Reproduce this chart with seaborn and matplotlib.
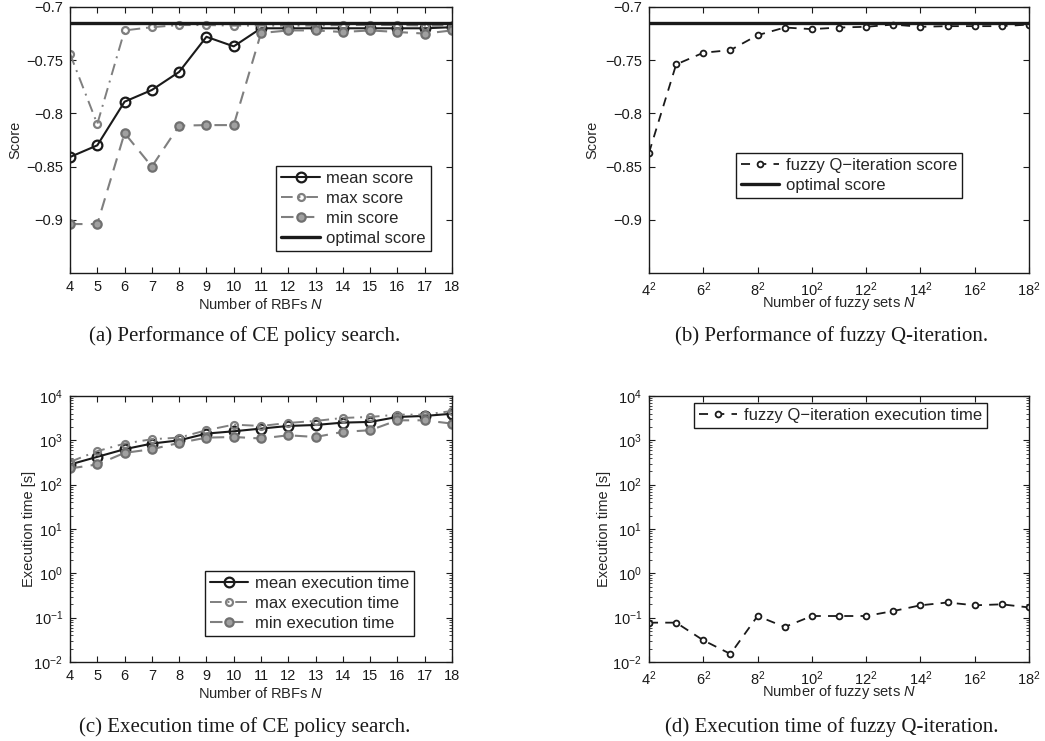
import numpy as np
import pandas as pd
import matplotlib
matplotlib.use("Agg")
import matplotlib.pyplot as plt
import seaborn as sns
from matplotlib.ticker import FixedLocator, FixedFormatter, LogLocator

# ---------------- data ----------------
n_rbfs = [4, 5, 6, 7, 8, 9, 10, 11, 12, 13, 14, 15, 16, 17, 18]
mean_score = [-0.841, -0.830, -0.789, -0.778, -0.761, -0.728, -0.737, -0.720,
              -0.720, -0.720, -0.720, -0.720, -0.720, -0.720, -0.719]
max_score = [-0.744, -0.810, -0.722, -0.719, -0.717, -0.717, -0.7175, -0.7175,
             -0.7175, -0.7175, -0.717, -0.717, -0.717, -0.7175, -0.718]
min_score = [-0.904, -0.904, -0.8185, -0.850, -0.8115, -0.811, -0.811, -0.7245,
             -0.722, -0.722, -0.7235, -0.722, -0.7235, -0.725, -0.722]
optimal_score = -0.715

n_fuzzy = [4, 5, 6, 7, 8, 9, 10, 11, 12, 13, 14, 15, 16, 17, 18]
fuzzy_score = [-0.837, -0.754, -0.743, -0.7405, -0.7265, -0.7193, -0.7208, -0.7193,
               -0.7186, -0.7165, -0.7186, -0.718, -0.718, -0.718, -0.7165]

mean_time = [285, 424, 631, 845, 1000, 1420, 1600, 1840, 2110, 2220, 2510, 2600,
             3370, 3550, 3980]
max_time = [327, 570, 845, 1060, 1150, 1690, 2260, 2110, 2470, 2740, 3200, 3370,
            3800, 3800, 4590]
min_time = [232, 286, 521, 631, 875, 1150, 1190, 1100, 1300, 1190, 1550, 1690,
            2830, 2830, 2380]

fuzzy_time = [0.0772, 0.0772, 0.0309, 0.0152, 0.109, 0.0617, 0.109, 0.109, 0.109,
              0.141, 0.19, 0.22, 0.19, 0.20, 0.17]

rbf_ticks = [4, 5, 6, 7, 8, 9, 10, 11, 12, 13, 14, 15, 16, 17, 18]
fuzzy_ticks = [4, 6, 8, 10, 12, 14, 16, 18]
fuzzy_tick_labels = [r"$\mathregular{4^2}$", r"$\mathregular{6^2}$", r"$\mathregular{8^2}$",
                     r"$\mathregular{10^2}$", r"$\mathregular{12^2}$", r"$\mathregular{14^2}$",
                     r"$\mathregular{16^2}$", r"$\mathregular{18^2}$"]
score_ticks = [-0.9, -0.85, -0.8, -0.75, -0.7]
score_tick_labels = ["\u22120.9", "\u22120.85", "\u22120.8", "\u22120.75", "\u22120.7"]

captions = ["(a) Performance of CE policy search.",
            "(b) Performance of fuzzy Q-iteration.",
            "(c) Execution time of CE policy search.",
            "(d) Execution time of fuzzy Q-iteration."]

# ---------------- style ----------------
sns.set_theme(style="white")
plt.rcParams['font.family'] = ['Liberation Sans', 'DejaVu Sans']
plt.rcParams['mathtext.fontset'] = 'custom'
plt.rcParams['mathtext.rm'] = 'Liberation Sans'
plt.rcParams['mathtext.it'] = 'Liberation Sans:italic'
plt.rcParams['axes.unicode_minus'] = True
FS = 10.5
LFS = 12

fig = plt.figure(figsize=(10.45, 7.41), dpi=100)
W, H = 1045, 741


def add_ax(l, r, t, b):
    return fig.add_axes([l / W, 1 - b / H, (r - l) / W, (b - t) / H])


axA = add_ax(70, 452, 7, 273)
axB = add_ax(649, 1029, 7, 273)
axC = add_ax(70, 452, 396, 662)
axD = add_ax(649, 1029, 396, 662)

GRAY = '#7f7f7f'
leg_kw = dict(frameon=True, fancybox=False, framealpha=1, edgecolor='k',
              handlelength=2.3, handletextpad=0.4, labelspacing=0.3,
              borderpad=0.3, borderaxespad=0, fontsize=LFS)

# ---- (a) ----
sns.lineplot(x=n_rbfs, y=mean_score, ax=axA, color='k', lw=1.5, marker='o', ms=7,
             mfc='none', mec='k', mew=1.6, label='mean score')
sns.lineplot(x=n_rbfs, y=max_score, ax=axA, color=GRAY, lw=1.4, ls=(0, (6, 3, 1, 3)),
             marker='o', ms=5, mfc='none', mec=GRAY, mew=1.6, label='max score')
sns.lineplot(x=n_rbfs, y=min_score, ax=axA, color=GRAY, lw=1.5, ls=(0, (6, 4)),
             marker='o', ms=6, mfc='#a0a0a0', mec='#707070', mew=1.6, label='min score')
axA.axhline(optimal_score, color='k', lw=2.4, label='optimal score')
axA.set_ylim(-0.95, -0.7)
axA.set_xlim(4, 18)
axA.set_xticks(rbf_ticks)
axA.yaxis.set_major_locator(FixedLocator(score_ticks))
axA.yaxis.set_major_formatter(FixedFormatter(score_tick_labels))
axA.set_xlabel(r"Number of RBFs $\mathit{N}$", fontsize=FS, labelpad=2)
axA.set_ylabel("Score", fontsize=FS, labelpad=3)
axA.legend(loc='lower right', bbox_to_anchor=(0.945, 0.083), **leg_kw)

# ---- (b) ----
sns.lineplot(x=n_fuzzy, y=fuzzy_score, ax=axB, color='k', lw=1.3, ls=(0, (5, 4)),
             marker='o', ms=4.2, mfc='white', mec='k', mew=1.3,
             label='fuzzy Q\u2212iteration score')
axB.axhline(optimal_score, color='k', lw=2.4, label='optimal score')
axB.set_ylim(-0.95, -0.7)
axB.set_xlim(4, 18)
axB.xaxis.set_major_locator(FixedLocator(fuzzy_ticks))
axB.xaxis.set_major_formatter(FixedFormatter(fuzzy_tick_labels))
axB.yaxis.set_major_locator(FixedLocator(score_ticks))
axB.yaxis.set_major_formatter(FixedFormatter(score_tick_labels))
axB.set_xlabel(r"Number of fuzzy sets $\mathit{N}$", fontsize=FS, labelpad=-3)
axB.set_ylabel("Score", fontsize=FS, labelpad=4)
axB.legend(loc='upper left', bbox_to_anchor=(0.229, 0.451), **leg_kw)

# ---- (c) ----
sns.lineplot(x=n_rbfs, y=mean_time, ax=axC, color='k', lw=1.5, marker='o', ms=7,
             mfc='none', mec='k', mew=1.6, label='mean execution time')
sns.lineplot(x=n_rbfs, y=max_time, ax=axC, color=GRAY, lw=1.4, ls=(0, (6, 3, 1, 3)),
             marker='o', ms=5, mfc='none', mec=GRAY, mew=1.6, label='max execution time')
sns.lineplot(x=n_rbfs, y=min_time, ax=axC, color=GRAY, lw=1.5, ls=(0, (6, 4)),
             marker='o', ms=6, mfc='#a0a0a0', mec='#707070', mew=1.6, label='min execution time')
axC.set_yscale('log')
axC.set_ylim(1e-2, 1e4)
axC.set_xlim(4, 18)
axC.set_xticks(rbf_ticks)
axC.set_xlabel(r"Number of RBFs $\mathit{N}$", fontsize=FS, labelpad=2)
axC.set_ylabel("Execution time [s]", fontsize=FS, labelpad=-2)
axC.legend(loc='lower right', bbox_to_anchor=(0.90, 0.098), **leg_kw)

# ---- (d) ----
sns.lineplot(x=n_fuzzy, y=fuzzy_time, ax=axD, color='k', lw=1.3, ls=(0, (5, 4)),
             marker='o', ms=4.2, mfc='white', mec='k', mew=1.3,
             label='fuzzy Q\u2212iteration execution time')
axD.set_yscale('log')
axD.set_ylim(1e-2, 1e4)
axD.set_xlim(4, 18)
axD.xaxis.set_major_locator(FixedLocator(fuzzy_ticks))
axD.xaxis.set_major_formatter(FixedFormatter(fuzzy_tick_labels))
axD.set_xlabel(r"Number of fuzzy sets $\mathit{N}$", fontsize=FS, labelpad=-3)
axD.set_ylabel("Execution time [s]", fontsize=FS, labelpad=1)
axD.legend(loc='upper center', bbox_to_anchor=(0.503, 0.974), **leg_kw)

for ax in (axA, axB, axC, axD):
    for s in ax.spines.values():
        s.set_color('k')
        s.set_linewidth(1.0)
        s.set_visible(True)
    ax.tick_params(which='major', direction='in', length=4, width=0.8, top=True,
                   right=True, bottom=True, left=True, labelsize=FS, colors='k', pad=5)
    ax.tick_params(which='minor', direction='in', length=2, width=0.6, top=False,
                   right=True, left=True, bottom=False)
    ax.grid(False)
    ax.set_facecolor('white')

for ax in (axC, axD):
    ax.yaxis.set_major_locator(LogLocator(base=10, numticks=10))
    ax.yaxis.set_minor_locator(LogLocator(base=10, subs=np.arange(2, 10), numticks=10))

# ---- captions ----
cap_font = dict(family=['Liberation Serif', 'DejaVu Serif'], fontsize=15, ha='center',
                va='center', color='k')
fig.text(245 / W, 1 - 336 / H, captions[0], **cap_font)
fig.text(832 / W, 1 - 336 / H, captions[1], **cap_font)
fig.text(245 / W, 1 - 727 / H, captions[2], **cap_font)
fig.text(832 / W, 1 - 727 / H, captions[3], **cap_font)

fig.savefig("out.png", dpi=100, facecolor='white')
